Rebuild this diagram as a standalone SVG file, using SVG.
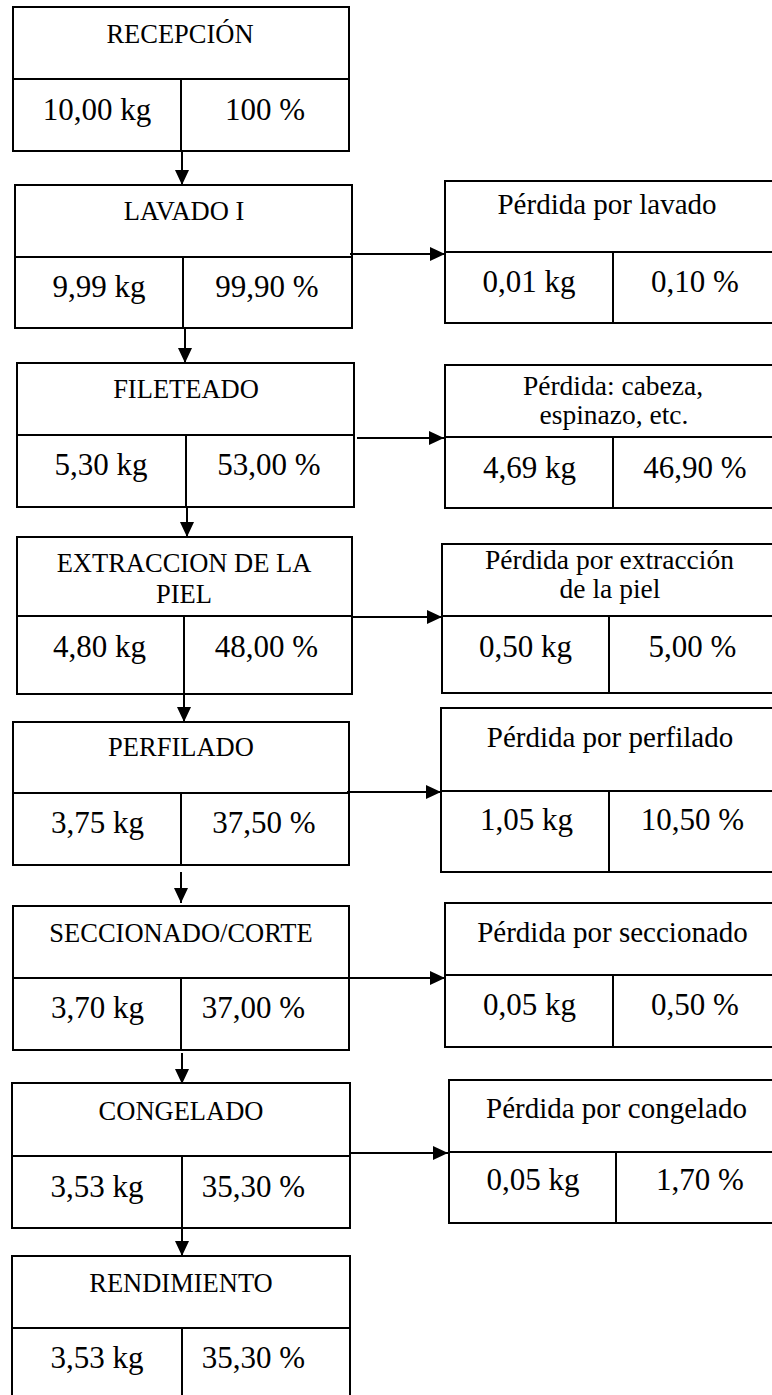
<svg xmlns="http://www.w3.org/2000/svg" width="772" height="1395" viewBox="0 0 772 1395">
<style>
.box{fill:#fff;stroke:#000;stroke-width:2}
.ln{stroke:#000;stroke-width:2;fill:none}
text{font-family:"Liberation Serif","Times New Roman","DejaVu Serif",serif;fill:#000;text-anchor:middle}
.t{font-size:26.5px}
.v{font-size:31px}
.lt{font-size:29px}
.lt2{font-size:27.5px}
</style>
<defs>
<marker id="ah" markerUnits="userSpaceOnUse" markerWidth="16" markerHeight="16" viewBox="0 0 16 16" refX="15" refY="8" orient="auto">
<path d="M0,1 L15,8 L0,15 Z" fill="#000"/>
</marker>
</defs>
<rect width="772" height="1395" fill="#fff"/>

<g id="recepcion">
<rect class="box" x="13" y="7" width="336" height="144"/>
<line class="ln" x1="13" y1="79" x2="349" y2="79"/>
<line class="ln" x1="181" y1="79" x2="181" y2="151"/>
<text class="t" x="180" y="43">RECEPCIÓN</text>
<text class="v" x="97" y="120">10,00 kg</text>
<text class="v" x="265" y="120">100 %</text>
</g>

<g id="lavado">
<rect class="box" x="15" y="185" width="337" height="143"/>
<line class="ln" x1="15" y1="257" x2="352" y2="257"/>
<line class="ln" x1="183" y1="257" x2="183" y2="328"/>
<text class="t" x="184" y="220">LAVADO I</text>
<text class="v" x="99" y="297">9,99 kg</text>
<text class="v" x="267" y="297">99,90 %</text>
</g>

<g id="fileteado">
<rect class="box" x="17" y="363" width="337" height="144"/>
<line class="ln" x1="17" y1="435" x2="354" y2="435"/>
<line class="ln" x1="186" y1="435" x2="186" y2="507"/>
<text class="t" x="186" y="398">FILETEADO</text>
<text class="v" x="101" y="475">5,30 kg</text>
<text class="v" x="269" y="475">53,00 %</text>
</g>

<g id="extraccion">
<rect class="box" x="17" y="537" width="335" height="157"/>
<line class="ln" x1="17" y1="616" x2="352" y2="616"/>
<line class="ln" x1="184" y1="616" x2="184" y2="694"/>
<text class="t" x="184" y="572">EXTRACCION DE LA</text>
<text class="t" x="184" y="603">PIEL</text>
<text class="v" x="99.5" y="657">4,80 kg</text>
<text class="v" x="266.5" y="657">48,00 %</text>
</g>

<g id="perfilado">
<rect class="box" x="13" y="722" width="336" height="143"/>
<line class="ln" x1="13" y1="793" x2="349" y2="793"/>
<line class="ln" x1="181" y1="793" x2="181" y2="865"/>
<text class="t" x="181" y="756">PERFILADO</text>
<text class="v" x="97.5" y="833">3,75 kg</text>
<text class="v" x="264" y="833">37,50 %</text>
</g>

<g id="seccionado">
<rect class="box" x="13" y="906" width="336" height="144"/>
<line class="ln" x1="13" y1="978" x2="349" y2="978"/>
<line class="ln" x1="181" y1="978" x2="181" y2="1050"/>
<text class="t" x="181" y="942">SECCIONADO/CORTE</text>
<text class="v" x="97.5" y="1018">3,70 kg</text>
<text class="v" x="253.5" y="1018">37,00 %</text>
</g>

<g id="congelado">
<rect class="box" x="12" y="1083" width="338" height="145"/>
<line class="ln" x1="12" y1="1156" x2="350" y2="1156"/>
<line class="ln" x1="182" y1="1156" x2="182" y2="1228"/>
<text class="t" x="181" y="1120">CONGELADO</text>
<text class="v" x="97" y="1197">3,53 kg</text>
<text class="v" x="253.5" y="1197">35,30 %</text>
</g>

<g id="rendimiento">
<rect class="box" x="12" y="1256" width="338" height="150"/>
<line class="ln" x1="12" y1="1328" x2="350" y2="1328"/>
<line class="ln" x1="182" y1="1328" x2="182" y2="1400"/>
<text class="t" x="181" y="1292">RENDIMIENTO</text>
<text class="v" x="97" y="1368">3,53 kg</text>
<text class="v" x="253.5" y="1368">35,30 %</text>
</g>

<g id="perdida-lavado">
<rect class="box" x="445" y="181" width="340" height="142"/>
<line class="ln" x1="445" y1="252" x2="785" y2="252"/>
<line class="ln" x1="613" y1="252" x2="613" y2="323"/>
<text class="lt" x="607" y="214">Pérdida por lavado</text>
<text class="v" x="529" y="292">0,01 kg</text>
<text class="v" x="695" y="292">0,10 %</text>
</g>

<g id="perdida-fileteado">
<rect class="box" x="445" y="365" width="340" height="143"/>
<line class="ln" x1="445" y1="437" x2="785" y2="437"/>
<line class="ln" x1="613" y1="437" x2="613" y2="508"/>
<text class="lt2" x="613" y="395">Pérdida: cabeza,</text>
<text class="lt2" x="614" y="424">espinazo, etc.</text>
<text class="v" x="529.5" y="478">4,69 kg</text>
<text class="v" x="695" y="478">46,90 %</text>
</g>

<g id="perdida-extraccion">
<rect class="box" x="442" y="544" width="343" height="149"/>
<line class="ln" x1="442" y1="616" x2="785" y2="616"/>
<line class="ln" x1="609" y1="616" x2="609" y2="693"/>
<text class="lt2" x="609.5" y="569">Pérdida por extracción</text>
<text class="lt2" x="610" y="598">de la piel</text>
<text class="v" x="525.5" y="657">0,50 kg</text>
<text class="v" x="692.5" y="657">5,00 %</text>
</g>

<g id="perdida-perfilado">
<rect class="box" x="441" y="708" width="344" height="164"/>
<line class="ln" x1="441" y1="791" x2="785" y2="791"/>
<line class="ln" x1="609" y1="791" x2="609" y2="872"/>
<text class="lt" x="610" y="747">Pérdida por perfilado</text>
<text class="v" x="526.5" y="830">1,05 kg</text>
<text class="v" x="692.5" y="830">10,50 %</text>
</g>

<g id="perdida-seccionado">
<rect class="box" x="445" y="903" width="340" height="144"/>
<line class="ln" x1="445" y1="975" x2="785" y2="975"/>
<line class="ln" x1="613" y1="975" x2="613" y2="1047"/>
<text class="lt" x="612.5" y="942">Pérdida por seccionado</text>
<text class="v" x="529.5" y="1015">0,05 kg</text>
<text class="v" x="695" y="1015">0,50 %</text>
</g>

<g id="perdida-congelado">
<rect class="box" x="449" y="1080" width="336" height="143"/>
<line class="ln" x1="449" y1="1152" x2="785" y2="1152"/>
<line class="ln" x1="616" y1="1152" x2="616" y2="1223"/>
<text class="lt" x="616.5" y="1118">Pérdida por congelado</text>
<text class="v" x="533" y="1190">0,05 kg</text>
<text class="v" x="700" y="1190">1,70 %</text>
</g>

<g id="connectors">
<line class="ln" x1="182" y1="151" x2="182" y2="185" marker-end="url(#ah)"/>
<line class="ln" x1="185" y1="328" x2="185" y2="363" marker-end="url(#ah)"/>
<line class="ln" x1="187" y1="507" x2="187" y2="537" marker-end="url(#ah)"/>
<line class="ln" x1="184" y1="694" x2="184" y2="722" marker-end="url(#ah)"/>
<line class="ln" x1="181" y1="872" x2="181" y2="903" marker-end="url(#ah)"/>
<line class="ln" x1="182" y1="1053" x2="182" y2="1084" marker-end="url(#ah)"/>
<line class="ln" x1="182" y1="1228" x2="182" y2="1256" marker-end="url(#ah)"/>
<line class="ln" x1="350" y1="254" x2="445" y2="254" marker-end="url(#ah)"/>
<line class="ln" x1="357" y1="438" x2="444" y2="438" marker-end="url(#ah)"/>
<line class="ln" x1="352" y1="617" x2="442" y2="617" marker-end="url(#ah)"/>
<line class="ln" x1="347" y1="792" x2="441" y2="792" marker-end="url(#ah)"/>
<line class="ln" x1="349" y1="978" x2="445" y2="978" marker-end="url(#ah)"/>
<line class="ln" x1="350" y1="1153" x2="448" y2="1153" marker-end="url(#ah)"/>
</g>
</svg>
